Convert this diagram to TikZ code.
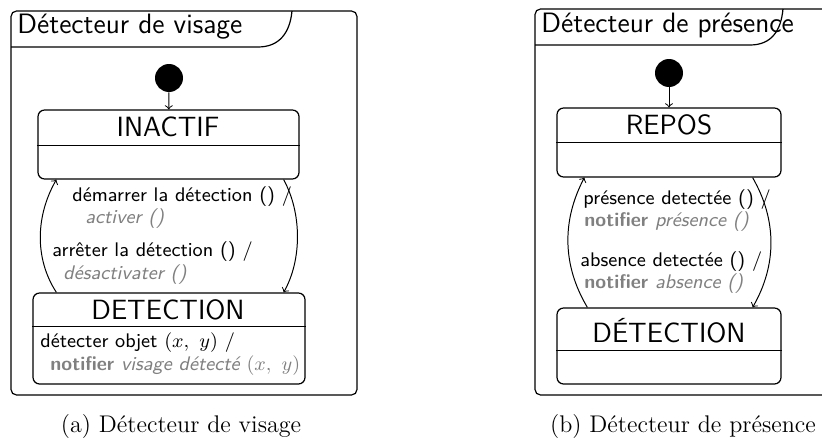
\documentclass[tikz,border=0pt]{standalone}
\usepackage{fontspec}
\usetikzlibrary{calc}
\newcommand\pxu{0.4566pt}
\begin{document}
\begin{tikzpicture}[x=0.4566pt,y=-0.4566pt,
  frameline/.style={draw,line width=0.55pt},
  frame/.style={draw,line width=0.55pt,rounded corners=2.5pt},
  statebox/.style={draw,line width=0.55pt,rounded corners=3pt,inner sep=0pt},
  initst/.style={circle,fill=black,inner sep=0pt,minimum size=28*\pxu},
  stname/.style={inner sep=0pt,font=\sffamily\fontsize{12.7}{15}\selectfont},
  ftitle/.style={inner sep=0pt,anchor=west,font=\sffamily\fontsize{12.8}{15}\selectfont},
  lbl/.style={inner sep=0pt,anchor=west,font=\sffamily\fontsize{9}{11}\selectfont},
  act/.style={lbl,text=gray},
  capt/.style={inner sep=0pt,font=\fontsize{11}{13}\selectfont},
  trans/.style={->,line width=0.45pt},
  div/.style={line width=0.45pt}]
\useasboundingbox (0,0) rectangle (822,441);
\clip (0,0) rectangle (822,441);

% ---------- (a) ----------
\draw[frame] (11,11) rectangle (357,395);
\draw[frameline] (11,47) -- (258,47) .. controls (280,47) and (290,32) .. (292,11);
\node[ftitle] (t1) at (17,27) {Détecteur de visage};

\node[initst] (init1) at (169,78) {};
\node[statebox,minimum width=261*\pxu,minimum height=69*\pxu] (inactif) at (168.5,144.5) {};
\draw[div] (inactif.west |- 0,145) -- (inactif.east |- 0,145);
\node[stname] (inactifT) at (168,127) {INACTIF};

\node[statebox,minimum width=272*\pxu,minimum height=91*\pxu] (detect) at (169,338.5) {};
\draw[div] (detect.west |- 0,326) -- (detect.east |- 0,326);
\node[stname] (detectT) at (168,310) {DETECTION};
\node[lbl] (d1) at (40,343) {détecter objet $(x,\ y)$ /};
\node[act] (d2) at (50,366) {\textbf{notifier} \textit{visage détecté $(x,\ y)$}};

\draw[trans] (init1) -- (inactif);
\draw[trans] ($(detect.north west)+(24,0)$) .. controls (34,258) and (36,215) .. ($(inactif.south west)+(19,0)$);
\draw[trans] ($(inactif.south east)+(-16,0)$) .. controls (302,213) and (302,260) .. ($(detect.north east)+(-22,0)$);

\node[lbl] (l1) at (72,197) {démarrer la détection () /};
\node[act] (l2) at (85,219) {\textit{activer ()}};
\node[lbl] (l3) at (52,252) {arrêter la détection () /};
\node[act] (l4) at (63,275) {\textit{désactivater ()}};

\node[capt] (c1) at (181,426) {(a) Détecteur de visage};

% ---------- (b) ----------
\draw[frame] (535,9) rectangle (960,395);
\draw[frameline] (535,45) -- (750,45) .. controls (772,45) and (781,30) .. (783,9);
\node[ftitle] (t2) at (541,25) {Détecteur de présence};

\node[initst] (init2) at (669,73) {};
\node[statebox,minimum width=224*\pxu,minimum height=69*\pxu] (repos) at (669,142.5) {};
\draw[div] (repos.west |- 0,142) -- (repos.east |- 0,142);
\node[stname] (reposT) at (669,125) {REPOS};

\node[statebox,minimum width=224*\pxu,minimum height=76*\pxu] (detect2) at (669,346) {};
\draw[div] (detect2.west |- 0,350) -- (detect2.east |- 0,350);
\node[stname] (detect2T) at (669,331) {DÉTECTION};

\draw[trans] (init2) -- (repos);
\draw[trans] ($(detect2.north west)+(31,0)$) .. controls (562,265) and (562,220) .. ($(repos.south west)+(28,0)$);
\draw[trans] ($(repos.south east)+(-29,0)$) .. controls (777,220) and (777,265) .. ($(detect2.north east)+(-29,0)$);

\node[lbl] (r1) at (583,200) {présence detectée () /};
\node[act] (r2) at (584,222) {\textbf{notifier} \textit{présence ()}};
\node[lbl] (r3) at (580,262) {absence detectée () /};
\node[act] (r4) at (584,284) {\textbf{notifier} \textit{absence ()}};

\node[capt] (c2) at (683,426) {(b) Détecteur de présence};
\end{tikzpicture}
\end{document}
